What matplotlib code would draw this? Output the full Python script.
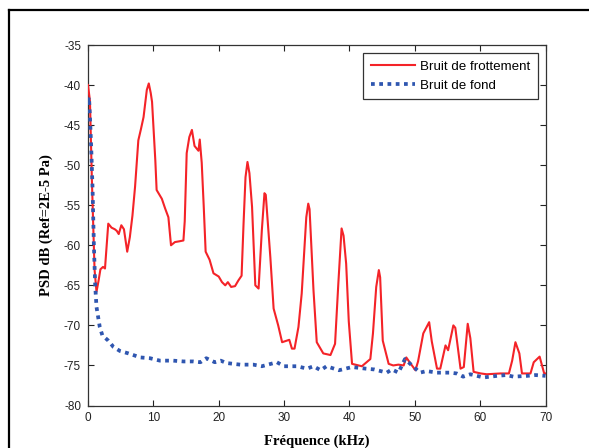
import matplotlib
matplotlib.use("Agg")
import matplotlib.pyplot as plt
from matplotlib.lines import Line2D

plt.rcParams["axes.unicode_minus"] = False

# ---- data ----
freq_friction = [0, 0.3, 0.6, 1.0, 1.3, 1.6, 1.9, 2.3, 2.6, 3.1, 3.6, 4.1, 4.4, 4.7, 5.1, 5.5,
                 6.0, 6.4, 6.8, 7.2, 7.7, 8.1, 8.5, 9.0, 9.3, 9.6, 9.8, 10.3, 10.5, 11.0, 11.3,
                 11.8, 12.3, 12.7, 13.3, 14.0, 14.6, 14.8, 15.1, 15.5, 15.9, 16.3, 16.9, 17.1,
                 17.4, 17.7, 18.0, 18.6, 19.2, 20.0, 20.5, 21.0, 21.4, 21.9, 22.5, 23.0, 23.5,
                 23.8, 24.1, 24.4, 24.7, 25.1, 25.6, 26.1, 26.6, 27.0, 27.2, 27.5, 27.9, 28.4,
                 29.1, 29.7, 30.4, 30.8, 31.2, 31.6, 32.2, 32.7, 33.4, 33.7, 33.9, 34.5, 35.0,
                 36.0, 37.1, 37.8, 38.3, 38.8, 39.1, 39.5, 39.9, 40.4, 41.9, 43.2, 43.6, 44.1,
                 44.5, 44.7, 45.1, 46.0, 46.7, 47.5, 48.3, 48.7, 49.3, 50.1, 50.5, 51.3, 52.2,
                 52.6, 53.4, 53.9, 54.7, 55.1, 55.9, 56.2, 57.0, 57.5, 58.1, 58.5, 59.0, 60.1,
                 61.0, 63.1, 64.4, 64.9, 65.4, 66.0, 66.4, 67.7, 68.2, 69.1, 69.8, 70.0]
psd_friction = [-40.0, -42.0, -52.0, -63.0, -65.8, -64.5, -63.0, -62.7, -62.9, -57.3, -57.8,
                -58.0, -58.2, -58.6, -57.5, -58.0, -60.8, -59.0, -56.3, -52.7, -46.9, -45.5,
                -44.0, -40.6, -39.8, -41.0, -42.1, -49.4, -53.1, -53.8, -54.2, -55.4, -56.5,
                -60.0, -59.6, -59.5, -59.4, -57.0, -48.5, -46.5, -45.6, -47.6, -48.2, -46.8,
                -49.7, -55.0, -60.8, -61.8, -63.5, -63.9, -64.6, -65.0, -64.6, -65.2, -65.1,
                -64.4, -63.8, -57.3, -51.5, -49.6, -51.0, -55.2, -65.0, -65.4, -58.1, -53.5,
                -53.7, -57.0, -61.5, -67.9, -70.0, -72.1, -71.9, -71.8, -72.9, -72.9, -70.2,
                -66.0, -56.5, -54.8, -55.5, -65.6, -72.1, -73.5, -73.7, -72.3, -64.8, -57.9,
                -58.8, -62.3, -69.5, -74.8, -75.1, -74.2, -71.0, -65.2, -63.1, -64.0, -71.9,
                -74.8, -75.0, -74.9, -75.0, -74.0, -74.7, -75.6, -74.5, -71.0, -69.6, -72.0,
                -75.4, -75.4, -72.5, -73.1, -70.0, -70.3, -75.4, -75.2, -69.8, -71.6, -75.8,
                -76.0, -76.1, -76.0, -76.0, -74.4, -72.1, -73.5, -76.0, -76.0, -74.6, -73.9,
                -76.0, -76.0]

freq_background = [0, 0.15, 0.3, 0.5, 0.7, 0.9, 1.1, 1.3, 1.6, 1.8, 2.2, 3.1, 3.9, 4.9, 6.2,
                   8.0, 9.5, 11.0, 13.0, 14.6, 16.1, 17.2, 18.1, 19.4, 20.3, 21.2, 23.3, 25.3,
                   26.6, 28.9, 30.0, 32.0, 33.5, 34.5, 35.6, 36.5, 38.4, 40.4, 42.5, 43.8, 45.7,
                   46.5, 47.5, 48.5, 49.3, 50.8, 51.8, 53.4, 55.4, 56.4, 57.4, 58.5, 60.5, 62.6,
                   64.0, 65.1, 67.2, 68.5, 70.0]
psd_background = [-42.0, -41.5, -44.0, -48.0, -53.0, -60.0, -65.0, -67.7, -69.2, -70.2, -71.25,
                  -71.9, -72.7, -73.2, -73.5, -74.0, -74.1, -74.4, -74.4, -74.5, -74.5, -74.6,
                  -74.1, -74.6, -74.4, -74.7, -74.9, -74.9, -75.1, -74.6, -75.1, -75.1, -75.4,
                  -75.1, -75.6, -75.1, -75.6, -75.2, -75.4, -75.5, -75.9, -75.5, -75.9, -74.2,
                  -74.8, -75.9, -75.7, -75.9, -75.9, -76.0, -76.4, -76.1, -76.5, -76.3, -76.2,
                  -76.4, -76.3, -76.2, -76.3]

series_labels = ["Bruit de frottement", "Bruit de fond"]
x_label = "Fréquence (kHz)"
y_label = "PSD dB (Ref=2E-5 Pa)"
x_ticks = list(range(0, 71, 10))
y_ticks = list(range(-80, -34, 5))

# ---- figure ----
W, H = 589, 448
fig = plt.figure(figsize=(W / 100, H / 100), dpi=100)
ax = fig.add_axes([88 / W, 1 - 405.5 / H, (545.5 - 88) / W, (405.5 - 45) / H])

ax.plot(freq_friction, psd_friction, color="#f42328", lw=1.5, label=series_labels[0], zorder=3)
ax.plot(freq_background, psd_background, color="#2f56b0", lw=2.7, linestyle=(0, (1, 1.2)),
        label=series_labels[1], zorder=4)

ax.set_xlim(0, 70)
ax.set_ylim(-80, -35)
ax.set_xticks(x_ticks)
ax.set_yticks(y_ticks)
ax.tick_params(direction="in", length=4, width=0.8, top=True, right=True,
               labelsize=8.5, pad=5, colors="#222222")
for lab in ax.get_xticklabels() + ax.get_yticklabels():
    lab.set_fontfamily("Liberation Sans")
for sp in ax.spines.values():
    sp.set_linewidth(0.9)
    sp.set_color("#333333")

ax.set_xlabel(x_label, fontfamily="Liberation Serif", fontweight="bold", fontsize=10.5, labelpad=7)
ax.set_ylabel(y_label, fontfamily="Liberation Serif", fontweight="bold", fontsize=10.5, labelpad=8)

leg = ax.legend(loc="upper right", prop={"family": "Liberation Sans", "size": 9.6},
                fancybox=False, edgecolor="#333333", framealpha=1, handlelength=3.3,
                borderaxespad=0.6, labelspacing=0.5, handletextpad=0.4, borderpad=0.55)
leg.get_frame().set_linewidth(0.9)

# outer frame (partially visible)
fig.add_artist(Line2D([9 / W, 9 / W], [-0.05, 1 - 10.5 / H], transform=fig.transFigure,
                      color="black", lw=1.6))
fig.add_artist(Line2D([9 / W, 1.05], [1 - 10.5 / H, 1 - 10.5 / H], transform=fig.transFigure,
                      color="black", lw=1.6))

fig.savefig("out.png", dpi=100)
